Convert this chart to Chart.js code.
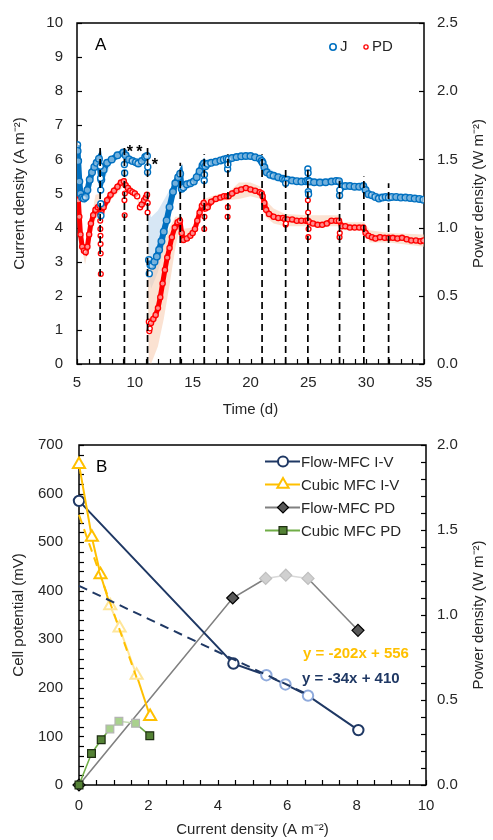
<!DOCTYPE html>
<html>
<head>
<meta charset="utf-8">
<script src="https://cdn.jsdelivr.net/npm/chart.js@4.4.1/dist/chart.umd.min.js"></script>
<style>
  html, body { margin: 0; padding: 0; background: #fff; }
  #wrap { position: relative; width: 493px; height: 840px; }
  canvas { position: absolute; left: 0; }
  #cA { top: 0; }
  #cB { top: 420px; }
</style>
</head>
<body>
<div id="wrap">
  <canvas id="cA" width="493" height="420"></canvas>
  <canvas id="cB" width="493" height="420"></canvas>
</div>
<script>
/* ── PANEL A DATA: current density J (A m-2) ───────────────────────────── */
const jDays = [
  5.02, 5.05, 5.1, 5.2, 5.3, 5.45, 5.6, 5.75, 5.9, 6.1, 6.3, 6.5, 6.7, 6.9,
  7.1, 7.3, 7.6, 8.0, 8.5, 9.0,
  9.2, 9.5, 9.8, 10.1, 10.3, 10.6, 10.9, 11.05,
  11.1,
  11.22, 11.35, 11.5, 11.7, 11.9, 12.1, 12.3, 12.5, 12.75, 13.0, 13.3, 13.5, 13.75, 13.92,
  14.05, 14.2, 14.5, 14.8, 15.1, 15.35, 15.6, 15.85, 15.97,
  16.1, 16.3, 16.6, 17.0, 17.4, 17.7, 17.95,
  18.1, 18.4, 18.8, 19.2, 19.6, 20.0, 20.4, 20.8, 20.97,
  21.05, 21.2, 21.4, 21.7, 22.0, 22.4, 22.8, 23.0,
  23.2, 23.6, 24.0, 24.4, 24.8, 24.97,
  25.1, 25.5, 26.0, 26.5, 27.0, 27.4, 27.65,
  27.9, 28.2, 28.6, 29.0, 29.4, 29.75,
  29.95, 30.2, 30.5, 30.8, 31.1, 31.4, 31.7, 31.95,
  32.2, 32.6, 33.0, 33.4, 33.8, 34.2, 34.6, 34.95
];
const jValues = [
  6.42, 6.25, 5.95, 5.35, 5.0, 4.88, 4.85, 4.9, 5.1, 5.4, 5.62, 5.78, 5.9, 6.02,
  5.4, 5.7, 5.9, 6.0, 6.12, 6.2,
  6.12, 6.0, 5.95, 5.92, 5.88, 5.95, 6.07, 6.1,
  null,
  3.05, 2.9, 2.88, 3.0, 3.15, 3.35, 3.6, 3.88, 4.21, 4.6, 5.05, 5.3, 5.48, 5.58,
  5.14, 5.18, 5.27, 5.3, 5.35, 5.48, 5.65, 5.82, 5.88,
  5.8, 5.87, 5.9, 5.93, 5.97, 6.0, 6.02,
  6.0, 6.04, 6.07, 6.09, 6.1, 6.1, 6.06, 6.02, 5.95,
  5.9, 5.77, 5.62, 5.55, 5.52, 5.48, 5.43, 5.4,
  5.4, 5.38, 5.36, 5.35, 5.36, 5.38,
  5.35, 5.33, 5.32, 5.33, 5.35, 5.37, 5.36,
  5.2, 5.22, 5.22, 5.2, 5.2, 5.22,
  5.1, 4.98, 4.95, 4.9, 4.85, 4.88, 4.9, 4.88,
  4.9, 4.9, 4.88, 4.88, 4.87, 4.85, 4.84, 4.82
];
/* scattered readings at the feed changes */
const jOutDays = [7.02, 7.04, 7.05, 7.06, 7.07, 9.1, 9.12, 11.1, 11.12, 11.25,
  16.0, 16.02, 18.02, 18.04, 23.04, 24.96, 24.98, 25.0, 25.02, 27.7, 27.72];
const jOutValues = [5.8, 5.45, 5.1, 4.7, 4.35, 5.85, 5.6, 5.62, 5.78, 2.65,
  5.38, 5.55, 5.72, 5.85, 5.3, 5.72, 5.6, 5.05, 4.98, 4.94, 5.1];

/* ── PANEL A DATA: power density PD (W m-2) ────────────────────────────── */
const pdDays = [
  5.02, 5.05, 5.08, 5.12, 5.2, 5.3, 5.45, 5.6, 5.75, 5.9, 6.05, 6.2, 6.4, 6.6, 6.8, 6.95,
  7.1, 7.3, 7.6, 7.9, 8.2, 8.5, 8.8, 9.05,
  9.2, 9.4, 9.6, 9.8, 10.0, 10.2,
  10.3,
  10.45, 10.6, 10.8, 10.95, 11.05,
  11.1,
  11.22, 11.4, 11.6, 11.8, 12.0, 12.2, 12.4, 12.6, 12.8, 13.0, 13.2, 13.45, 13.7, 13.9,
  14.05, 14.2, 14.5, 14.8, 15.0, 15.2, 15.4, 15.6, 15.8, 15.95,
  16.1, 16.3, 16.6, 17.0, 17.4, 17.7, 17.95,
  18.1, 18.4, 18.8, 19.2, 19.6, 20.0, 20.4, 20.8, 20.97,
  21.05, 21.2, 21.35, 21.6, 22.0, 22.4, 22.8, 23.0,
  23.2, 23.6, 24.0, 24.4, 24.8, 24.97,
  25.1, 25.4, 25.8, 26.2, 26.6, 27.0, 27.4, 27.65,
  27.9, 28.2, 28.6, 29.0, 29.4, 29.75,
  29.95, 30.2, 30.5, 30.8, 31.2, 31.6, 31.95,
  32.3, 32.7, 33.1, 33.5, 33.9, 34.3, 34.7, 34.95
];
const pdValues = [
  1.45, 1.38, 1.30, 1.20, 1.08, 0.95, 0.86, 0.83, 0.82, 0.86, 0.95, 1.03, 1.09, 1.13, 1.15, 1.16,
  1.11, 1.15, 1.20, 1.24, 1.27, 1.30, 1.33, 1.34,
  1.31, 1.29, 1.27, 1.26, 1.25, 1.23,
  null,
  1.15, 1.17, 1.20, 1.22, 1.24,
  null,
  0.31, 0.30, 0.33, 0.36, 0.41, 0.49, 0.59, 0.69, 0.78, 0.85, 0.93, 1.00, 1.04, 1.05,
  0.96, 0.91, 0.92, 0.94, 0.96, 0.99, 1.05, 1.11, 1.16, 1.18,
  1.14, 1.15, 1.19, 1.21, 1.22, 1.23, 1.23,
  1.23, 1.25, 1.27, 1.28, 1.29, 1.28, 1.27, 1.26, 1.25,
  1.23, 1.18, 1.13, 1.10, 1.08, 1.07, 1.07, 1.06,
  1.06, 1.06, 1.05, 1.05, 1.05, 1.05,
  1.04, 1.03, 1.02, 1.02, 1.03, 1.05, 1.05, 1.05,
  1.01, 1.01, 1.00, 1.00, 1.00, 1.00,
  0.96, 0.94, 0.93, 0.92, 0.93, 0.925, 0.925,
  0.925, 0.92, 0.925, 0.915, 0.905, 0.905, 0.90, 0.905
];
const pdOutDays = [7.0, 7.01, 7.02, 7.03, 7.04, 7.05, 7.06, 9.1, 9.12, 9.14, 11.1, 11.12,
  11.25, 11.3, 16.0, 16.02, 18.02, 18.04, 23.04, 23.06, 24.96, 24.98, 25.0, 25.02, 27.7, 27.72];
const pdOutValues = [1.10, 1.05, 0.99, 0.94, 0.88, 0.81, 0.66, 1.20, 1.09, 1.25, 1.11, 1.18,
  0.24, 0.26, 0.99, 1.08, 1.08, 1.15, 1.02, 1.03, 1.20, 1.11, 0.93, 0.99, 0.93, 0.96];

/* ── PANEL A DATA: spread envelopes ────────────────────────────────────── */
const bandDays = [5.0, 5.3, 5.7, 6.1, 6.6, 7.0, 7.1, 8.0, 9.0, 9.1, 10.2, 10.4, 11.05,
  11.2, 11.4, 12.0, 12.5, 13.0, 13.5, 13.9, 14.1, 15.0, 16.0, 17.0, 18.0, 19.0, 20.0,
  20.9, 21.3, 22.0, 23.0, 25.0, 27.7, 28.0, 29.8, 30.3, 32.0, 35.0];
const jBandHigh = [6.55, 5.15, 5.0, 5.5, 5.98, 6.15, 5.6, 6.1, 6.3, 6.25, 6.0, 5.98, 6.18,
  4.6, 4.3, 4.5, 4.8, 5.1, 5.45, 5.65, 5.25, 5.45, 5.95, 6.0, 6.1, 6.17, 6.18,
  6.1, 5.82, 5.65, 5.5, 5.45, 5.45, 5.3, 5.3, 5.05, 4.97, 4.9];
const jBandLow = [6.3, 4.85, 4.7, 5.2, 5.72, 5.9, 5.2, 5.9, 6.1, 6.05, 5.82, 5.8, 6.02,
  2.6, 2.2, 2.7, 3.4, 4.2, 5.05, 5.45, 5.05, 5.2, 5.8, 5.86, 5.95, 6.0, 6.02,
  5.92, 5.5, 5.38, 5.3, 5.28, 5.28, 5.12, 5.14, 4.88, 4.8, 4.75];
const pdBandHigh = [1.48, 1.00, 0.86, 1.00, 1.24, 1.25, 1.15, 1.29, 1.36, 1.35, 1.26, 1.18, 1.25,
  0.73, 0.70, 0.75, 0.88, 1.00, 1.08, 1.08, 0.99, 1.00, 1.21, 1.24, 1.25, 1.33, 1.33,
  1.30, 1.20, 1.14, 1.10, 1.09, 1.09, 1.04, 1.04, 0.98, 0.96, 0.95];
const pdBandLow = [1.38, 0.90, 0.73, 0.90, 1.06, 1.10, 1.08, 1.21, 1.30, 1.29, 1.21, 1.13, 1.21,
  0.03, 0.00, 0.13, 0.33, 0.58, 0.85, 1.00, 0.90, 0.93, 1.15, 1.19, 1.20, 1.21, 1.23,
  1.21, 1.08, 1.03, 1.01, 1.01, 1.01, 0.98, 0.98, 0.89, 0.89, 0.86];

/* vertical dashed markers (feed changes) */
const dashDays = [7.0, 9.1, 11.1, 13.93, 16.0, 18.05, 21.0, 23.04, 24.96, 27.7, 29.8, 31.94];
const dashTops = [6.35, 6.45, 6.35, 5.9, 6.15, 6.15, 6.15, 5.77, 5.8, 5.43, 5.5, 5.3];

/* asterisks above the early cycles */
const starDays = [9.58, 10.39, 11.74];
const starValues = [6.31, 6.31, 5.94];

/* ── PANEL B DATA ──────────────────────────────────────────────────────── */
const flowIvX = [0, 4.45, 5.4, 5.95, 6.6, 8.05];
const flowIvY = [585, 250, 226, 207, 184, 113];
const cubicIvX = [0, 0.37, 0.62, 0.9, 1.17, 1.66, 2.05];
const cubicIvY = [660, 510, 433, 369, 323, 226, 141];
const flowPdX = [0, 4.43, 5.38, 5.96, 6.6, 8.04];
const flowPdY = [0, 1.10, 1.215, 1.234, 1.215, 0.91];
const cubicPdX = [0, 0.36, 0.64, 0.89, 1.15, 1.63, 2.04];
const cubicPdY = [0, 0.185, 0.266, 0.33, 0.375, 0.363, 0.29];
const flowFitX = [0, 6.6];
const flowFitY = [410, 186];
const cubicFitX = [0, 1.66];
const cubicFitY = [556, 221];
/* points used for the linear fits (drawn pale) */
const flowFitIdx = [2, 3, 4];
const cubicFitIdx = [3, 4, 5];

/* ── STYLE ─────────────────────────────────────────────────────────────── */
const FONT = '"Liberation Sans", Arial, sans-serif';
const INK = "#262626";
const C = {
  blue: "#0070c0",
  blueBand: "rgba(189,215,238,0.6)",
  red: "#ff0000",
  redBand: "rgba(248,203,173,0.55)",
  navy: "#1f3864",
  navyPale: "#8faadc",
  gold: "#ffc000",
  goldPale: "#ffe699",
  grey: "#808080",
  greyDark: "#595959",
  greyPale: "#d0d0d0",
  greyLine: "#d9d9d9",
  green: "#70ad47",
  greenDark: "#548235",
  greenPale: "#a9d18e",
  greenLine: "#c5dcb4",
};

function pts(xs, ys) {
  return xs.map((x, i) => ({ x: x, y: ys[i] }));
}

function axisFont() {
  return { family: FONT, size: 15 };
}

/* ── FRAME + INWARD TICKS + RIGHT TITLE ────────────────────────────────── */
const frameTicks = {
  id: "frameTicks",
  beforeDatasetsDraw(chart, args, opts) {
    const { ctx, chartArea: { left, right, top, bottom } } = chart;
    ctx.save();
    ctx.strokeStyle = "#000";
    ctx.lineWidth = 1.2;
    (opts.marks || []).forEach(function (t) {
      const s = chart.scales[t.id];
      for (let k = 0; ; k++) {
        const v = s.min + k * t.step;
        if (v > s.max + 1e-9) break;
        const p = Math.round(s.getPixelForValue(v)) + 0.5;
        ctx.beginPath();
        if (t.side === "bottom") { ctx.moveTo(p, bottom); ctx.lineTo(p, bottom - t.len); }
        else if (t.side === "left") { ctx.moveTo(left, p); ctx.lineTo(left + t.len, p); }
        else { ctx.moveTo(right, p); ctx.lineTo(right - t.len, p); }
        ctx.stroke();
      }
    });
    ctx.lineWidth = 1.5;
    ctx.strokeRect(left, top, right - left, bottom - top);

    // right-hand title, read bottom to top like the left one
    if (opts.rightTitle) {
      ctx.translate(chart.width - 14, (top + bottom) / 2);
      ctx.rotate(-Math.PI / 2);
      ctx.fillStyle = INK;
      ctx.font = `15px ${FONT}`;
      ctx.textAlign = "center";
      ctx.textBaseline = "middle";
      ctx.fillText(opts.rightTitle, 0, 0);
    }
    ctx.restore();
  },
};

function drawMarker(ctx, style, x, y, r) {
  ctx.beginPath();
  if (style === "circle") ctx.arc(x, y, r, 0, Math.PI * 2);
  else if (style === "triangle") {
    ctx.moveTo(x, y - r);
    ctx.lineTo(x + r * 0.866, y + r * 0.5);
    ctx.lineTo(x - r * 0.866, y + r * 0.5);
    ctx.closePath();
  } else if (style === "rectRot") {
    ctx.moveTo(x, y - r); ctx.lineTo(x + r, y); ctx.lineTo(x, y + r); ctx.lineTo(x - r, y);
    ctx.closePath();
  } else {
    const h = r * 0.72;
    ctx.rect(x - h, y - h, 2 * h, 2 * h);
  }
  ctx.fill();
  ctx.stroke();
}

/* ── PANEL A TEXT: letter, legend, asterisks ───────────────────────────── */
const panelAText = {
  id: "panelAText",
  afterDraw(chart) {
    const { ctx, chartArea: { left, top, right }, scales: { x, y } } = chart;
    ctx.save();
    ctx.fillStyle = "#000";
    ctx.textBaseline = "middle";
    ctx.font = `17px ${FONT}`;
    ctx.fillText("A", left + 18, top + 22);

    // legend
    ctx.font = `15px ${FONT}`;
    ctx.fillStyle = "#fff";
    ctx.strokeStyle = C.blue; ctx.lineWidth = 1.6;
    drawMarker(ctx, "circle", right - 91, top + 24, 3.2);
    ctx.strokeStyle = C.red; ctx.lineWidth = 1.3;
    drawMarker(ctx, "circle", right - 58, top + 24, 2.1);
    ctx.fillStyle = INK;
    ctx.fillText("J", right - 84, top + 24);
    ctx.fillText("PD", right - 52, top + 24);

    // asterisks
    ctx.fillStyle = "#000";
    ctx.font = `bold 16px ${FONT}`;
    ctx.textAlign = "center";
    starDays.forEach(function (d, i) {
      ctx.fillText("*", x.getPixelForValue(d), y.getPixelForValue(starValues[i]) + 4);
    });
    ctx.restore();
  },
};

/* ── PANEL B TEXT: letter, legend, fit equations ──────────────────────── */
const legendB = [
  { label: "Flow-MFC I-V", line: C.navy, style: "circle", fill: "#fff", stroke: C.navy, r: 5, lw: 2 },
  { label: "Cubic MFC I-V", line: C.gold, style: "triangle", fill: "#fff", stroke: C.gold, r: 6.5, lw: 2 },
  { label: "Flow-MFC PD", line: C.grey, style: "rectRot", fill: C.greyDark, stroke: "#000", r: 5.5, lw: 1.2 },
  { label: "Cubic MFC PD", line: C.green, style: "rect", fill: C.greenDark, stroke: "#1e2e12", r: 5.5, lw: 1.2 },
];

const panelBText = {
  id: "panelBText",
  afterDraw(chart) {
    const { ctx, chartArea: { left, top } } = chart;
    ctx.save();
    ctx.textBaseline = "middle";
    ctx.fillStyle = "#000";
    ctx.font = `17px ${FONT}`;
    ctx.fillText("B", left + 17, top + 22);

    ctx.font = `15px ${FONT}`;
    legendB.forEach(function (e, i) {
      const ly = top + 16.5 + i * 23;
      ctx.strokeStyle = e.line; ctx.lineWidth = 2;
      ctx.beginPath(); ctx.moveTo(265, ly); ctx.lineTo(300, ly); ctx.stroke();
      ctx.fillStyle = e.fill; ctx.strokeStyle = e.stroke; ctx.lineWidth = e.lw;
      drawMarker(ctx, e.style, 283, ly, e.r);
      ctx.fillStyle = INK;
      ctx.fillText(e.label, 301, ly + 1);
    });

    ctx.font = `bold 15px ${FONT}`;
    ctx.fillStyle = C.gold;
    ctx.fillText("y = -202x + 556", 303, top + 209);
    ctx.fillStyle = C.navy;
    ctx.fillText("y = -34x + 410", 302, top + 234);
    ctx.restore();
  },
};

/* ── PANEL A CHART ─────────────────────────────────────────────────────── */
const dashPoints = [];
dashDays.forEach(function (d, i) {
  dashPoints.push({ x: d, y: 0 }, { x: d, y: dashTops[i] }, { x: d, y: null });
});

const bandStyle = { showLine: true, pointRadius: 0, borderWidth: 0, order: 20 };

new Chart(document.getElementById("cA"), {
  type: "scatter",
  data: {
    datasets: [
      Object.assign({ data: pts(bandDays, pdBandHigh), yAxisID: "y2", fill: false }, bandStyle),
      Object.assign({ data: pts(bandDays, pdBandLow), yAxisID: "y2", fill: "-1", backgroundColor: C.redBand }, bandStyle),
      Object.assign({ data: pts(bandDays, jBandHigh), yAxisID: "y", fill: false }, bandStyle),
      Object.assign({ data: pts(bandDays, jBandLow), yAxisID: "y", fill: "-1", backgroundColor: C.blueBand }, bandStyle),
      {
        label: "PD", data: pts(pdDays, pdValues), yAxisID: "y2", showLine: true,
        borderColor: C.red, borderWidth: 5, pointRadius: 2.6, pointBorderWidth: 1.3,
        pointBorderColor: C.red, pointBackgroundColor: "rgba(255,255,255,0.55)", order: 6,
      },
      {
        label: "PD out", data: pts(pdOutDays, pdOutValues), yAxisID: "y2",
        pointRadius: 2.4, pointBorderWidth: 1.3, pointBorderColor: C.red,
        pointBackgroundColor: "#fff", order: 5,
      },
      {
        label: "J", data: pts(jDays, jValues), yAxisID: "y", showLine: true,
        borderColor: C.blue, borderWidth: 6, pointRadius: 3.3, pointBorderWidth: 1.4,
        pointBorderColor: C.blue, pointBackgroundColor: "rgba(255,255,255,0.45)", order: 4,
      },
      {
        label: "J out", data: pts(jOutDays, jOutValues), yAxisID: "y",
        pointRadius: 3, pointBorderWidth: 1.4, pointBorderColor: C.blue,
        pointBackgroundColor: "#fff", order: 3,
      },
      {
        label: "feed", data: dashPoints, yAxisID: "y", showLine: true, spanGaps: false,
        borderColor: "#000", borderWidth: 1.7, borderDash: [7, 4], pointRadius: 0, order: 1,
      },
    ],
  },
  options: {
    responsive: false,
    animation: false,
    layout: { padding: { top: 22, left: 0, right: 0, bottom: 0 } },
    plugins: {
      legend: { display: false },
      tooltip: { enabled: false },
      frameTicks: {
        rightTitle: "Power density (W m\u207B\u00B2)",
        marks: [
          { id: "x", step: 1, len: 5, side: "bottom" },
          { id: "y", step: 1, len: 5, side: "left" },
          { id: "y2", step: 0.5, len: 5, side: "right" },
        ],
      },
    },
    scales: {
      x: {
        type: "linear", min: 5, max: 35,
        ticks: { stepSize: 5, color: INK, font: axisFont(), padding: 10, maxRotation: 0 },
        grid: { display: false, drawTicks: false }, border: { display: false },
        title: { display: true, text: "Time (d)", color: INK, font: axisFont(), padding: { top: 0, bottom: 1 } },
        afterFit(s) { s.height = 56; },
      },
      y: {
        position: "left", min: 0, max: 10,
        ticks: { stepSize: 1, color: INK, font: axisFont(), padding: 14 },
        grid: { display: false, drawTicks: false }, border: { display: false },
        title: { display: true, text: "Current density (A m\u207B\u00B2)", color: INK, font: axisFont(), padding: { top: 11, bottom: 0 } },
        afterFit(s) { s.width = 77; },
      },
      y2: {
        position: "right", min: 0, max: 2.5,
        ticks: { stepSize: 0.5, color: INK, font: axisFont(), padding: 13, callback: (v) => v.toFixed(1) },
        grid: { display: false, drawTicks: false }, border: { display: false },
        title: { display: false },
        afterFit(s) { s.width = 69; },
      },
    },
  },
  plugins: [frameTicks, panelAText],
});

/* ── PANEL B CHART ─────────────────────────────────────────────────────── */
function pick(idx, n, inSet, outSet) {
  return Array.from({ length: n }, (_, i) => (idx.includes(i) ? inSet : outSet));
}
function segPale(idx, pale, base) {
  return function (c) {
    return idx.includes(c.p0DataIndex) && idx.includes(c.p1DataIndex) ? pale : base;
  };
}

new Chart(document.getElementById("cB"), {
  type: "scatter",
  data: {
    datasets: [
      {
        label: "flow fit", data: pts(flowFitX, flowFitY), yAxisID: "y", showLine: true,
        borderColor: C.navy, borderWidth: 2, borderDash: [9, 6], pointRadius: 0, order: 1, clip: false,
      },
      {
        label: "cubic fit", data: pts(cubicFitX, cubicFitY), yAxisID: "y", showLine: true,
        borderColor: C.gold, borderWidth: 2, borderDash: [9, 6], pointRadius: 0, order: 1, clip: false,
      },
      {
        label: "Cubic MFC I-V", data: pts(cubicIvX, cubicIvY), yAxisID: "y", showLine: true,
        borderColor: C.gold, borderWidth: 2,
        segment: { borderColor: segPale(cubicFitIdx, C.goldPale, C.gold) },
        pointStyle: "triangle", pointRadius: 7, pointBorderWidth: 2,
        pointBorderColor: pick(cubicFitIdx, cubicIvX.length, C.goldPale, C.gold),
        pointBackgroundColor: "#fff", order: 2, clip: false,
      },
      {
        label: "Flow-MFC I-V", data: pts(flowIvX, flowIvY), yAxisID: "y", showLine: true,
        borderColor: C.navy, borderWidth: 2,
        pointStyle: "circle", pointRadius: 5.2, pointBorderWidth: 2,
        pointBorderColor: pick(flowFitIdx, flowIvX.length, C.navyPale, C.navy),
        pointBackgroundColor: "#fff", order: 3, clip: false,
      },
      {
        label: "Cubic MFC PD", data: pts(cubicPdX, cubicPdY), yAxisID: "y2", showLine: true,
        borderColor: C.green, borderWidth: 1.6,
        segment: { borderColor: segPale(cubicFitIdx, C.greenLine, C.green) },
        pointStyle: "rect", pointRadius: 5.5, pointBorderWidth: 1.2,
        pointBorderColor: pick(cubicFitIdx, cubicPdX.length, "#b4b4b4", "#1e2e12"),
        pointBackgroundColor: pick(cubicFitIdx, cubicPdX.length, C.greenPale, C.greenDark),
        order: 4, clip: false,
      },
      {
        label: "Flow-MFC PD", data: pts(flowPdX, flowPdY), yAxisID: "y2", showLine: true,
        borderColor: C.grey, borderWidth: 1.6,
        segment: { borderColor: segPale(flowFitIdx, C.greyLine, C.grey) },
        pointStyle: "rectRot", pointRadius: 6, pointBorderWidth: 1.2,
        pointBorderColor: pick(flowFitIdx, flowPdX.length, "#bfbfbf", "#000"),
        pointBackgroundColor: pick(flowFitIdx, flowPdX.length, C.greyPale, C.greyDark),
        order: 5, clip: false,
      },
    ],
  },
  options: {
    responsive: false,
    animation: false,
    layout: { padding: { top: 22, left: 0, right: 0, bottom: 0 } },
    plugins: {
      legend: { display: false },
      tooltip: { enabled: false },
      frameTicks: {
        rightTitle: "Power density (W m\u207B\u00B2)",
        marks: [
          { id: "x", step: 0.5, len: 5, side: "bottom" },
          { id: "y", step: 20, len: 5, side: "left" },
          { id: "y2", step: 0.1, len: 5, side: "right" },
        ],
      },
    },
    scales: {
      x: {
        type: "linear", min: 0, max: 10,
        ticks: { stepSize: 2, color: INK, font: axisFont(), padding: 12, maxRotation: 0 },
        grid: { display: false, drawTicks: false }, border: { display: false },
        title: { display: true, text: "Current density (A m\u207B\u00B2)", color: INK, font: axisFont(), padding: { top: 0, bottom: 1 } },
        afterFit(s) { s.height = 55; },
      },
      y: {
        position: "left", min: 0, max: 700,
        ticks: { stepSize: 100, color: INK, font: axisFont(), padding: 16 },
        grid: { display: false, drawTicks: false }, border: { display: false },
        title: { display: true, text: "Cell potential (mV)", color: INK, font: axisFont(), padding: { top: 10, bottom: 0 } },
        afterFit(s) { s.width = 79; },
      },
      y2: {
        position: "right", min: 0, max: 2,
        ticks: { stepSize: 0.5, color: INK, font: axisFont(), padding: 11, callback: (v) => v.toFixed(1) },
        grid: { display: false, drawTicks: false }, border: { display: false },
        title: { display: false },
        afterFit(s) { s.width = 67; },
      },
    },
  },
  plugins: [frameTicks, panelBText],
});
</script>
</body>
</html>
